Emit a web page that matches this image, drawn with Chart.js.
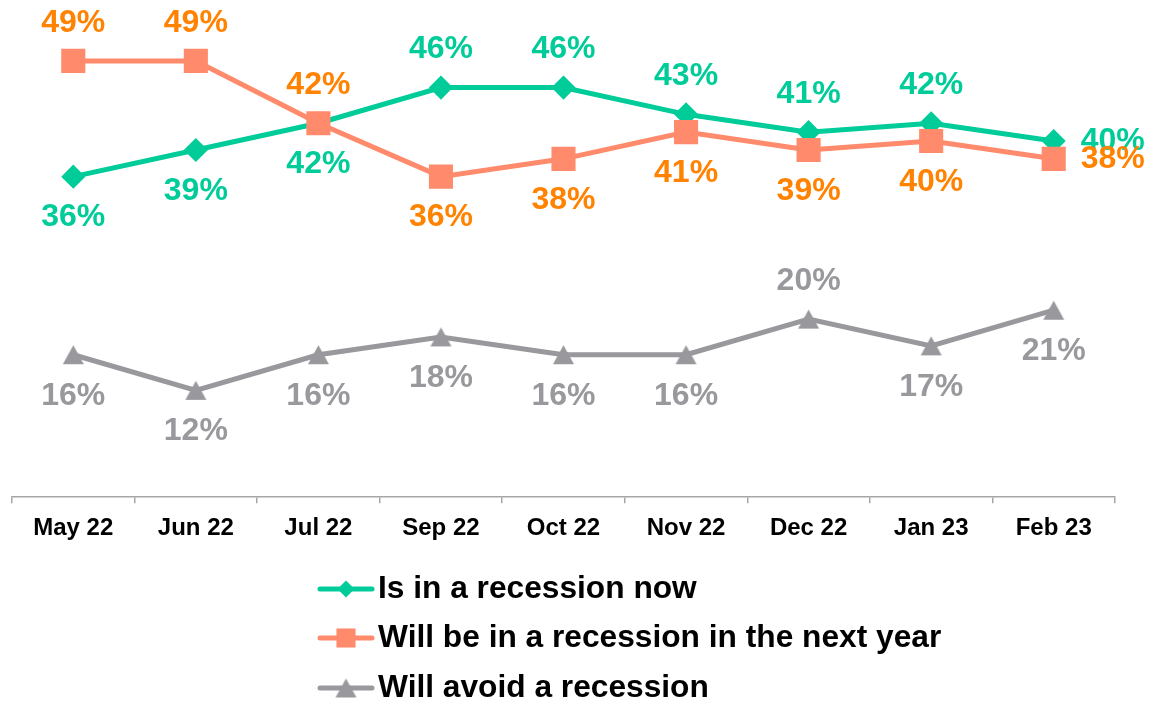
<!DOCTYPE html>
<html><head><meta charset="utf-8">
<script src="https://cdn.jsdelivr.net/npm/chart.js@4.4.1/dist/chart.umd.min.js"></script>
<style>html,body{margin:0;padding:0;background:#fff}#wrap{width:1165px;height:704px;position:relative}</style>
</head><body><div id="wrap"><canvas id="c"></canvas></div>
<script>
const categories = ['May 22','Jun 22','Jul 22','Sep 22','Oct 22','Nov 22','Dec 22','Jan 23','Feb 23'];
const seriesNames = ['Is in a recession now','Will be in a recession in the next year','Will avoid a recession'];
const recessionNow = [36,39,42,46,46,43,41,42,40];
const recessionNextYear = [49,49,42,36,38,41,39,40,38];
const avoidRecession = [16,12,16,18,16,16,20,17,21];

const FONT = '"Liberation Sans", Arial, sans-serif';

// triangle marker centred on its bounding box (like the original)
function makeTriangle(color, w, h) {
  const c = document.createElement('canvas');
  c.width = w + 2; c.height = h + 2;
  const g = c.getContext('2d');
  g.fillStyle = color;
  g.beginPath();
  g.moveTo(1 + w / 2, 1); g.lineTo(1 + w, 1 + h); g.lineTo(1, 1 + h);
  g.closePath(); g.fill();
  return c;
}
const grayTriangle = makeTriangle('#98989D', 21, 19);

const labelPlugin = {
  id: 'pointLabels',
  afterDatasetsDraw(chart) {
    const ctx = chart.ctx;
    ctx.save();
    ctx.font = 'bold 32px ' + FONT;
    ctx.textBaseline = 'middle';
    chart.data.datasets.forEach((ds, i) => {
      const meta = chart.getDatasetMeta(i);
      meta.data.forEach((pt, j) => {
        const pos = ds.labelPos[j];
        let x = pt.x, y = pt.y;
        ctx.textAlign = 'center';
        if (pos === 'above') y -= 38;
        else if (pos === 'below') y += 41;
        else { x += 27; ctx.textAlign = 'left'; }
        ctx.fillStyle = ds.labelColor;
        ctx.fillText(ds.data[j] + '%', x, y);
      });
    });
    ctx.restore();
  }
};

function drawMarker(ctx, ds, x, y) {
  const style = ds.pointStyle, r = ds.pointRadius;
  if (style instanceof HTMLCanvasElement) {
    ctx.drawImage(style, x - style.width / 2, y - style.height / 2);
    return;
  }
  ctx.beginPath();
  if (style === 'rectRot') {
    ctx.moveTo(x - r, y); ctx.lineTo(x, y - r); ctx.lineTo(x + r, y); ctx.lineTo(x, y + r);
  } else {
    const s = Math.SQRT1_2 * r;
    ctx.rect(x - s, y - s, 2 * s, 2 * s);
  }
  ctx.closePath();
  ctx.fill();
}

const legendPlugin = {
  id: 'vlegend',
  afterDraw(chart) {
    const ctx = chart.ctx;
    ctx.save();
    const rows = [589, 638, 688];
    chart.data.datasets.forEach((ds, i) => {
      const y = rows[i];
      ctx.strokeStyle = ds.borderColor;
      ctx.lineWidth = 5;
      ctx.lineCap = 'round';
      ctx.beginPath(); ctx.moveTo(320, y); ctx.lineTo(372, y); ctx.stroke();
      ctx.fillStyle = ds.pointBackgroundColor;
      drawMarker(ctx, ds, 346, y);
      ctx.fillStyle = '#000';
      ctx.font = 'bold 31.7px ' + FONT;
      ctx.textAlign = 'left';
      ctx.textBaseline = 'middle';
      ctx.fillText(ds.label, 378, y);
    });
    ctx.restore();
  }
};

new Chart(document.getElementById('c'), {
  type: 'line',
  data: {
    labels: categories,
    datasets: [
      { label: seriesNames[0], data: recessionNow, borderColor: '#00CC99', backgroundColor: '#00CC99',
        pointBackgroundColor: '#00CC99', pointBorderColor: '#00CC99', pointStyle: 'rectRot', pointRadius: 8.5,
        borderWidth: 5, order: 1, labelColor: '#00CC99',
        labelPos: ['below','below','below','above','above','above','above','above','right'] },
      { label: seriesNames[1], data: recessionNextYear, borderColor: '#FF8A6C', backgroundColor: '#FF8A6C',
        pointBackgroundColor: '#FF8A6C', pointBorderColor: '#FF8A6C', pointStyle: 'rect', pointRadius: 13.5,
        borderWidth: 5, order: 0, labelColor: '#FF8200',
        labelPos: ['above','above','above','below','below','below','below','below','right'] },
      { label: seriesNames[2], data: avoidRecession, borderColor: '#98989D', backgroundColor: '#98989D',
        pointBackgroundColor: '#98989D', pointBorderColor: '#98989D', pointStyle: grayTriangle, pointRadius: 11,
        borderWidth: 5, order: 2, labelColor: '#98989D',
        labelPos: ['below','below','below','below','below','below','above','below','below'] }
    ]
  },
  options: {
    responsive: true,
    maintainAspectRatio: false,
    animation: false,
    events: [],
    layout: { autoPadding: false, padding: { left: 12, right: 50, top: 52, bottom: 150 } },
    plugins: { legend: { display: false }, tooltip: { enabled: false } },
    elements: { line: { tension: 0 }, point: { borderWidth: 1 } },
    datasets: { line: { clip: false } },
    scales: {
      x: {
        offset: true,
        afterFit(scale) { scale.paddingLeft = 0; scale.paddingRight = 0; },
        grid: { offset: true, drawOnChartArea: false, drawTicks: true, tickLength: 6, color: '#A6A6A6', lineWidth: 1.5 },
        border: { display: true, color: '#A6A6A6', width: 1.5 },
        ticks: { color: '#000', font: { family: FONT, size: 24, weight: 'bold' }, padding: 11, maxRotation: 0, autoSkip: false }
      },
      y: { display: false, min: 0, max: 50 }
    }
  },
  plugins: [labelPlugin, legendPlugin]
});
</script>
</body></html>
